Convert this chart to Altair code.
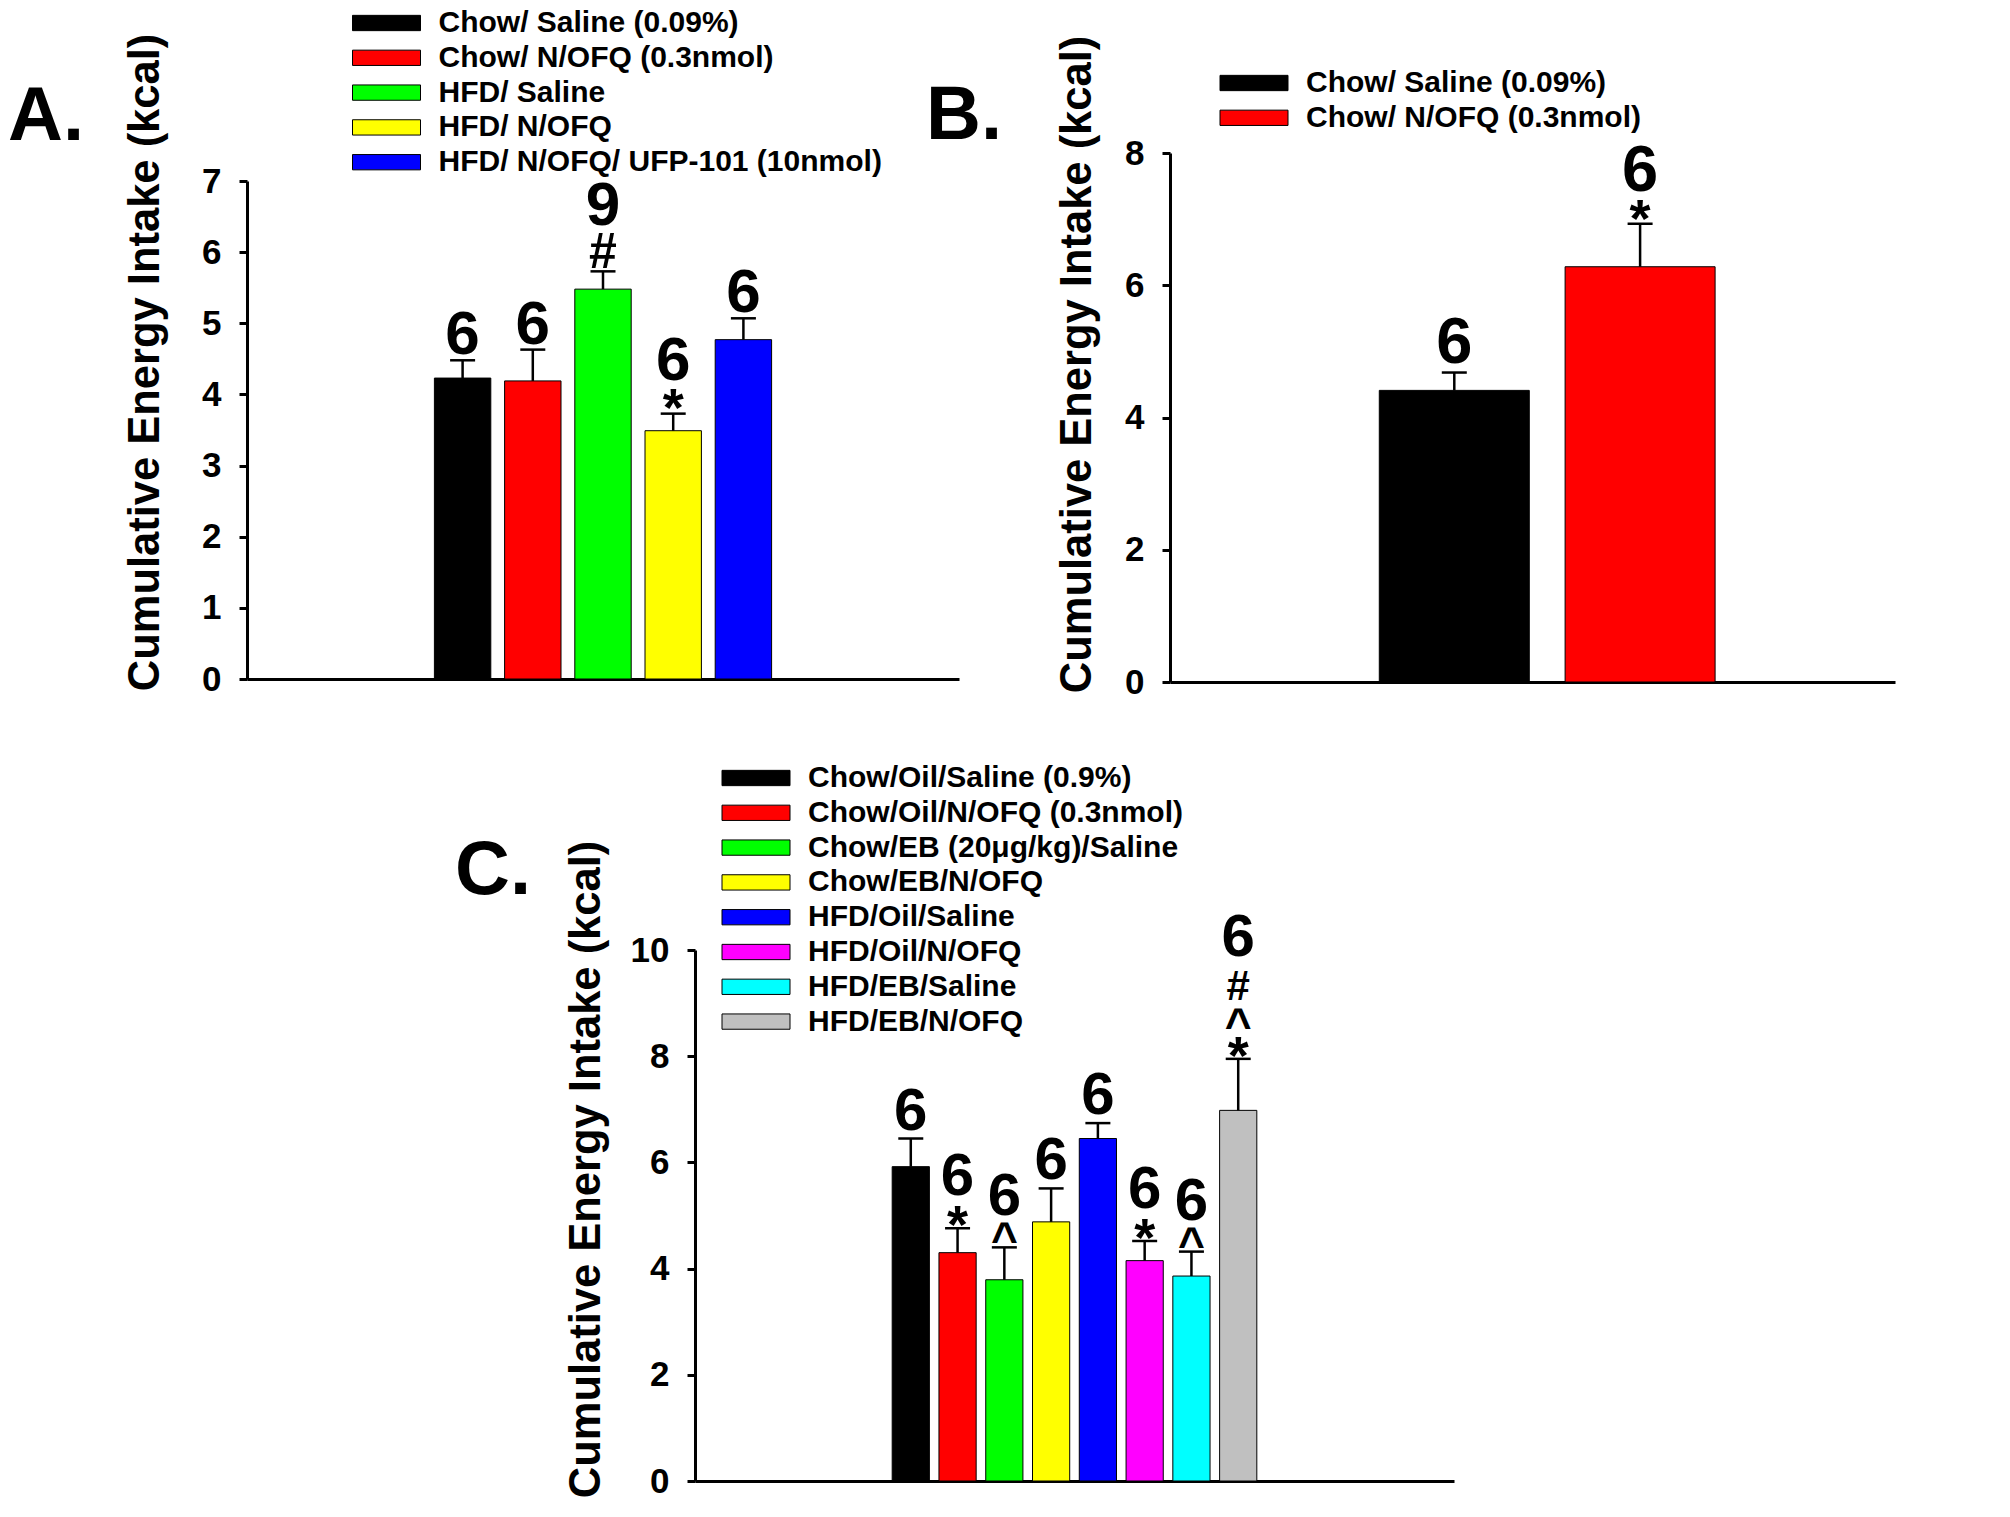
import altair as alt
import pandas as pd

FONT = "Liberation Sans"
W, H = 1990, 1495

# ---------------- Panel A ----------------
a_groups = ["Chow/ Saline (0.09%)", "Chow/ N/OFQ (0.3nmol)", "HFD/ Saline",
            "HFD/ N/OFQ", "HFD/ N/OFQ/ UFP-101 (10nmol)"]
a_means = [4.23, 4.19, 5.48, 3.49, 4.77]
a_sems = [0.25, 0.44, 0.25, 0.24, 0.30]
a_n = ["6", "6", "9", "6", "6"]
a_marks = ["", "", "#", "*", ""]
a_colors = ["#000000", "#FF0000", "#00FF00", "#FFFF00", "#0000FF"]
a_ticks = [0, 1, 2, 3, 4, 5, 6, 7]

# ---------------- Panel B ----------------
b_groups = ["Chow/ Saline (0.09%)", "Chow/ N/OFQ (0.3nmol)"]
b_means = [4.41, 6.28]
b_sems = [0.27, 0.65]
b_n = ["6", "6"]
b_marks = ["", "*"]
b_colors = ["#000000", "#FF0000"]
b_ticks = [0, 2, 4, 6, 8]

# ---------------- Panel C ----------------
c_groups = ["Chow/Oil/Saline (0.9%)", "Chow/Oil/N/OFQ (0.3nmol)",
            "Chow/EB (20\u03bcg/kg)/Saline", "Chow/EB/N/OFQ", "HFD/Oil/Saline",
            "HFD/Oil/N/OFQ", "HFD/EB/Saline", "HFD/EB/N/OFQ"]
c_means = [5.92, 4.30, 3.79, 4.88, 6.45, 4.15, 3.86, 6.98]
c_sems = [0.53, 0.46, 0.61, 0.63, 0.29, 0.37, 0.46, 0.97]
c_n = ["6", "6", "6", "6", "6", "6", "6", "6"]
c_marks = ["", "*", "^", "", "", "*", "^", "*^#"]
c_colors = ["#000000", "#FF0000", "#00FF00", "#FFFF00", "#0000FF",
            "#FF00FF", "#00FFFF", "#C0C0C0"]
c_ticks = [0, 2, 4, 6, 8, 10]

YTITLE = "Cumulative Energy Intake (kcal)"
SWATCH = "M-2,-0.45H2V0.45H-2Z"


def panel(groups, means, sems, ns, marks, colors, ticks, ymax,
          xr, first_left, step, bar_w, yr, legend_xy, title_xy, letter,
          letter_xy, dy_map, fs):
    df = pd.DataFrame({"group": groups, "mean": means, "sem": sems,
                       "pos": list(range(len(groups)))})
    df["upper"] = df["mean"] + df["sem"]

    # layout of the x axis (pixels -> position units)
    c0 = first_left + bar_w / 2.0
    lo = -(c0 - xr[0]) / step
    hi = lo + (xr[1] - xr[0]) / step
    xs = alt.Scale(domain=[lo, hi], range=xr, nice=False, zero=False)
    ys = alt.Scale(domain=[0, ymax], range=yr, nice=False, zero=True)
    xax = alt.Axis(orient="bottom", offset=yr[0] - H, labels=False, ticks=False,
                   title=None, grid=False, domainColor="black", domainWidth=3)
    yax = alt.Axis(orient="left", offset=-xr[0], values=ticks, grid=False,
                   domainColor="black", domainWidth=3, tickColor="black",
                   tickWidth=3, tickSize=8, labelFont=FONT, labelFontSize=35,
                   labelFontWeight="bold", labelColor="black", labelPadding=18,
                   title=YTITLE, titleFont=FONT, titleFontSize=43.5,
                   titleFontWeight="bold", titleColor="black", titleAngle=270,
                   titleAlign="center", titleBaseline="middle",
                   titleX=title_xy[0] - xr[0], titleY=title_xy[1])
    X = alt.X("pos:Q", scale=xs, axis=xax)
    color = alt.Color(
        "group:N",
        scale=alt.Scale(domain=groups, range=colors),
        sort=groups,
        legend=alt.Legend(
            title=None, orient="none", legendX=legend_xy[0], legendY=legend_xy[1],
            symbolType=SWATCH, symbolSize=1156, symbolStrokeColor="black",
            symbolStrokeWidth=1, symbolOpacity=1, labelFont=FONT,
            labelFontSize=30, labelFontWeight="bold", labelColor="black",
            labelOffset=34.5, labelLimit=1500, rowPadding=1.8, padding=0, offset=0,
        ),
    )
    base = alt.Chart(df)
    bars = base.mark_bar(stroke="black", strokeWidth=1, opacity=1,
                         width=bar_w).encode(
        x=X, y=alt.Y("mean:Q", scale=ys, axis=yax), color=color)
    err = base.mark_rule(color="black", strokeWidth=2.5).encode(
        x=X, y=alt.Y("mean:Q", scale=ys, axis=yax), y2="upper:Q")
    cap = base.mark_tick(orient="horizontal", size=25, thickness=2.5,
                         color="black", opacity=1).encode(
        x=X, y=alt.Y("upper:Q", scale=ys, axis=yax))

    rows = []
    for p, u, n, m in zip(df["pos"], df["upper"], ns, marks):
        for i, ch in enumerate(m):
            below = m[i - 1] if i > 0 else ""
            rows.append({"pos": p, "upper": u, "sym": ch, "kind": ch,
                         "level": i, "below": below})
        rows.append({"pos": p, "upper": u, "sym": n, "kind": "n",
                     "level": len(m), "below": m[-1] if m else ""})
    ann = pd.DataFrame(rows)

    layers = [bars, err, cap]
    for (kind, level, below), sub in ann.groupby(["kind", "level", "below"]):
        layers.append(
            alt.Chart(sub).mark_text(
                font=FONT, fontWeight="bold", fontSize=fs[kind],
                dy=dy_map[(kind, int(level), below)], baseline="alphabetic",
                align="center", color="black",
            ).encode(x=X, y=alt.Y("upper:Q", scale=ys, axis=yax), text="sym:N")
        )
    lab = alt.Chart(pd.DataFrame({"t": [letter]})).mark_text(
        font=FONT, fontWeight="bold", fontSize=76, align="left",
        baseline="alphabetic", color="black",
    ).encode(text="t:N", x=alt.value(letter_xy[0]), y=alt.value(letter_xy[1]))
    layers.append(lab)
    return alt.layer(*layers)


pa = panel(a_groups, a_means, a_sems, a_n, a_marks, a_colors, a_ticks, 7,
           [239, 951], 424.4, 71.2, 56.4, [671, 173],
           (361, -2.5), (137, 354), "A.", (0, 132),
           {("n", 0, ""): -6, ("n", 1, "*"): -34, ("n", 1, "#"): -46,
            ("#", 0, ""): -3, ("*", 0, ""): 12},
           {"n": 62, "*": 54, "#": 50})

pb = panel(b_groups, b_means, b_sems, b_n, b_marks, b_colors, b_ticks, 8,
           [1162, 1887], 1370.2, 188.4, 150, [674, 145],
           (1228.5, 57.5), (1069, 356), "B.", (918, 130.5),
           {("n", 0, ""): -10, ("n", 1, "*"): -33, ("*", 0, ""): 13},
           {"n": 65, "*": 54})

pc = panel(c_groups, c_means, c_sems, c_n, c_marks, c_colors, c_ticks, 10,
           [687, 1446], 882, 47.4, 37.2, [1473, 942],
           (730.5, 752.5), (578, 1161), "C.", (447, 885.5),
           {("n", 0, ""): -9, ("n", 1, "*"): -33, ("n", 1, "^"): -32,
            ("n", 3, "#"): -103, ("*", 0, ""): 15, ("^", 0, ""): 8,
            ("^", 1, "*"): -18, ("#", 2, "^"): -59},
           {"n": 60, "*": 54, "^": 46, "#": 42})

chart = (
    alt.layer(pa, pb, pc)
    .resolve_scale(x="independent", y="independent", color="independent")
    .properties(width=W, height=H, padding=0, background="white",
                autosize=alt.AutoSizeParams(type="none"))
    .configure_view(strokeWidth=0)
)

chart.save("out.html", embed_options={"renderer": "svg", "actions": False})
